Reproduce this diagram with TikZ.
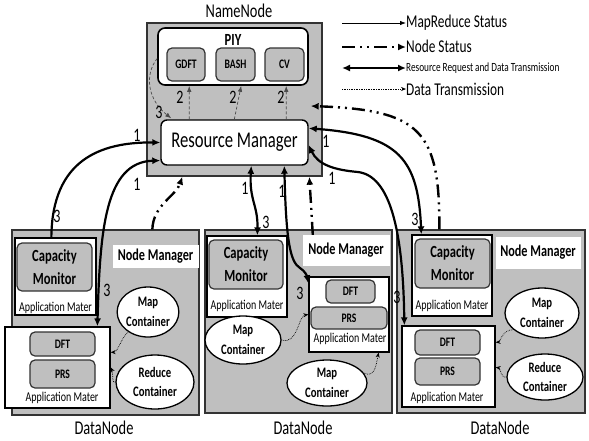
\documentclass[tikz,border=0pt]{standalone}
\usepackage{fontspec}
\setmainfont{Carlito}[FakeStretch=0.74]
\usetikzlibrary{arrows.meta,calc,shapes.geometric}

\definecolor{panel}{RGB}{191,191,191}
\newcommand\fs[1]{\fontsize{#1}{#1}\selectfont}
\newcommand\fss[2]{\fontsize{#1}{#2}\selectfont}

\begin{document}
\begin{tikzpicture}[x=1pt,y=-1pt,
  sz/.style 2 args={minimum width=#1,minimum height=#2,inner sep=0pt},
  panelbox/.style={draw=black!80,fill=panel,line width=1.3pt},
  whitebox/.style={draw=black,fill=white,line width=1.3pt},
  roundwhite/.style={draw=black,fill=white,line width=1.6pt,rounded corners=7pt},
  module/.style={draw=black!80,fill=panel,line width=1.2pt,rounded corners=5pt,font=\bfseries\fs{13}},
  capmod/.style={module,align=center,font=\bfseries\fss{17}{23}},
  container/.style={ellipse,draw=black,fill=white,line width=1.3pt,inner sep=0pt,align=center,font=\bfseries\fss{14.5}{19.5}},
  nmbox/.style={fill=white,draw=white,inner sep=0pt,font=\bfseries\fs{16.5}},
  amtext/.style={font=\fs{13.5},inner sep=0pt},
  dntext/.style={font=\fs{19.5},inner sep=0pt},
  num/.style={font=\fs{19},inner sep=0pt},
  request/.style={line width=2.2pt,{Latex[length=8pt,width=7pt]}-{Latex[length=8pt,width=7pt]}},
  toward/.style={line width=2.2pt,-{Latex[length=8pt,width=7pt]}},
  nodestatus/.style={line width=2.4pt,dash pattern=on 13pt off 5pt on 2pt off 5pt on 2pt off 5pt,-{Latex[length=8pt,width=7pt]}},
  datatx/.style={line width=0.7pt,densely dotted,-{Stealth[length=5pt,width=4pt]}},
  inner/.style={line width=0.7pt,gray!60!black,dashed,dash pattern=on 3pt off 2pt,-{Latex[length=6pt,width=4.5pt]}}
]
\useasboundingbox (0,0) rectangle (589,440);

% ---------- NameNode ----------
\node[panelbox,sz={175}{153}] (nn) at (234.5,99.5) {};
\node[dntext] (nnlabel) at (239,11) {NameNode};
\node[roundwhite,sz={150}{57}] (piy) at (233,56.5) {};
\node[font=\bfseries\fs{17},inner sep=0pt] (piytext) at (233,40) {PIY};
\node[module,sz={38}{33}] (gdft) at (186,64.5) {GDFT};
\node[module,sz={39}{33}] (bash) at (235.5,64.5) {BASH};
\node[module,sz={39}{33}] (cv) at (284.5,64.5) {CV};
\node[draw=black,fill=white,line width=1.4pt,rounded corners=6pt,sz={147}{45},font=\fs{22.5}] (rm) at (234.5,142.5) {Resource Manager};

% ---------- DataNode 1 ----------
\node[panelbox,sz={187}{185}] (dn1) at (105.5,322.5) {};
\node[dntext] (dn1label) at (104,428) {DataNode};
\node[whitebox,sz={81}{77}] (cap1am) at (55.5,276.5) {};
\node[capmod,sz={75}{48}] (cap1) at (54.5,267) {Capacity\\Monitor};
\node[amtext] (cap1t) at (55.5,308) {Application Mater};
\node[nmbox,sz={85}{22}] (nm1) at (155.5,256) {Node Manager};
\node[container,sz={60}{50}] (mc1) at (148,312) {Map\\Container};
\node[whitebox,sz={105}{81}] (am2a) at (57.5,367.5) {};
\node[module,sz={65}{24}] (dft1) at (62.5,344) {DFT};
\node[module,sz={65}{28}] (prs1) at (62.5,374) {PRS};
\node[amtext] (am2at) at (62,398) {Application Mater};
\node[container,sz={78}{54}] (rc1) at (155,382) {Reduce\\Container};

% ---------- DataNode 2 ----------
\node[panelbox,sz={187}{183}] (dn2) at (298.5,321.5) {};
\node[dntext] (dn2label) at (303,428) {DataNode};
\node[whitebox,sz={80}{81}] (cap2am) at (247,276.5) {};
\node[capmod,sz={74}{49}] (cap2) at (246,264.5) {Capacity\\Monitor};
\node[amtext] (cap2t) at (247,306) {Application Mater};
\node[nmbox,sz={86}{30}] (nm2) at (346,250) {Node Manager};
\node[whitebox,sz={80}{75}] (am2b) at (349,314.5) {};
\node[module,sz={49}{23}] (dft2) at (350.5,291.5) {DFT};
\node[module,sz={76}{22}] (prs2) at (349,318) {PRS};
\node[amtext] (am2bt) at (350,339) {Application Mater};
\node[container,sz={76}{48}] (mc21) at (243,340) {Map\\Container};
\node[container,sz={80}{46}] (mc22) at (327,383) {Map\\Container};

% ---------- DataNode 3 ----------
\node[panelbox,sz={188}{183}] (dn3) at (491,321.5) {};
\node[dntext] (dn3label) at (500,428) {DataNode};
\node[whitebox,sz={80}{81}] (cap3am) at (452,275.5) {};
\node[capmod,sz={75}{49}] (cap3) at (452.5,263.5) {Capacity\\Monitor};
\node[amtext] (cap3t) at (452,306) {Application Mater};
\node[nmbox,sz={84}{31}] (nm3) at (538,252.5) {Node Manager};
\node[container,sz={74}{50}] (mc3) at (542,313) {Map\\Container};
\node[container,sz={76}{46}] (rc3) at (545,377) {Reduce\\Container};
\node[whitebox,sz={93}{81}] (am2c) at (448.5,366.5) {};
\node[module,sz={65}{25}] (dft3) at (447.5,342.5) {DFT};
\node[module,sz={65}{27}] (prs3) at (447.5,371.5) {PRS};
\node[amtext] (am2ct) at (447,398) {Application Mater};

% ---------- legend ----------
\node[anchor=west,font=\fs{18},inner sep=0pt] (lg1) at (406,23) {MapReduce Status};
\node[anchor=west,font=\fs{18},inner sep=0pt] (lg2) at (406,46) {Node Status};
\node[anchor=west,font=\fs{12.5},inner sep=0pt] (lg3) at (406,68) {Resource Request and Data Transmission};
\node[anchor=west,font=\fs{18},inner sep=0pt] (lg4) at (406,89) {Data Transmission};
\coordinate (lg1s) at (342,23);
\coordinate (lg2s) at (342,47);
\coordinate (lg3s) at (342,68);
\coordinate (lg4s) at (342,89);
\draw[line width=0.8pt,-{Latex[length=6pt,width=4.5pt]}] (lg1s) -- (lg1.west);
\draw[nodestatus] (lg2s) -- ($(lg2.west)+(0,1)$);
\draw[request] (lg3s) -- (lg3.west);
\draw[datatx] (lg4s) -- (lg4.west);

% ---------- inside the NameNode ----------
\draw[inner] ($(rm.north west)+(29,0)$) -- ($(piy.south west)+(32,0)$);
\draw[inner] ($(rm.north west)+(74,0)$) -- ($(piy.south west)+(84,0)$);
\draw[inner] ($(rm.north west)+(126,0)$) -- ($(piy.south west)+(129,0)$);
\draw[inner] ($(piy.west)+(0,2)$) .. controls (144,75) and (148,100) .. ($(rm.north west)+(11,-1)$);
\node[num] (n2a) at (180,97) {2};
\node[num] (n2b) at (233,97) {2};
\node[num] (n2c) at (281,97) {2};
\node[num] (n3nn) at (159,112) {3};

% ---------- connectors, DataNode 1 ----------
\draw[toward] ($(cap1am.north west)+(37,0)$) .. controls (52,160) and (100,142) .. (rm.west);
\draw[request] ($(am2a.north west)+(93,0)$) .. controls (100,230) and (105,162) .. ($(rm.west)+(0,18)$);
\draw[nodestatus] ($(dn1.north west)+(141,0)$) .. controls (153,205) and (176,196) .. ($(nn.south west)+(36,0)$);
\node[num] (n1a) at (137,135) {1};
\node[num] (n3a) at (57,216) {3};
\node[num] (n1b) at (137,184) {1};
\node[num] (n3b) at (107,290) {3};

% ---------- connectors, DataNode 2 ----------
\draw[request] ($(rm.south west)+(91,0)$) .. controls (249,200) and (258,205) .. ($(cap2am.north west)+(51,0)$);
\draw[request] ($(rm.south west)+(124,0)$) .. controls (286,240) and (290,262) .. (300,268) .. controls (305,271) and (307,276) .. ($(am2b.north west)+(0,7)$);
\draw[nodestatus] ($(nm2.north west)+(10,0)$) -- ($(nn.south west)+(163,0)$);
\node[num] (n1c) at (245,188) {1};
\node[num] (n3c) at (266,222) {3};
\node[num] (n1d) at (282,191) {1};
\node[num] (n3d) at (300,293) {3};

% ---------- connectors, DataNode 3 ----------
\draw[nodestatus] ($(dn3.north west)+(43,0)$) .. controls (440,130) and (420,110) .. ($(nn.east)+(-12,6.5)$);
\draw[request] ($(rm.north east)+(0,9)$) .. controls (400,135) and (418,160) .. ($(cap3am.north west)+(10,0)$);
\draw[request] ($(rm.east)+(0,2.5)$) .. controls (318,165) and (335,170) .. (358,172) .. controls (390,176) and (403,230) .. ($(am2c.north west)+(3,0)$);
\node[num] (n1e) at (326,141) {1};
\node[num] (n3e) at (415,219) {3};
\node[num] (n1f) at (332,178) {1};
\node[num] (n3f) at (397,297) {3};

% ---------- containers feeding the application masters ----------
\draw[datatx] (mc1.225) .. controls (120,340) and (118,352) .. ($(am2a.north east)+(0,26)$);
\draw[datatx] (rc1.west) .. controls (112,385) and (113,372) .. ($(am2a.north east)+(0,41)$);
\draw[datatx] (mc21.east) .. controls (298,345) and (298,316) .. (am2b.west);
\draw[datatx] (mc22.15) .. controls (375,378) and (376,365) .. ($(am2b.south east)+(-11,0)$);
\draw[datatx] (mc3.210) .. controls (502,330) and (500,342) .. ($(am2c.north east)+(0,17)$);
\draw[datatx] (rc3.west) .. controls (502,380) and (500,368) .. ($(am2c.north east)+(0,42)$);
\end{tikzpicture}
\end{document}
